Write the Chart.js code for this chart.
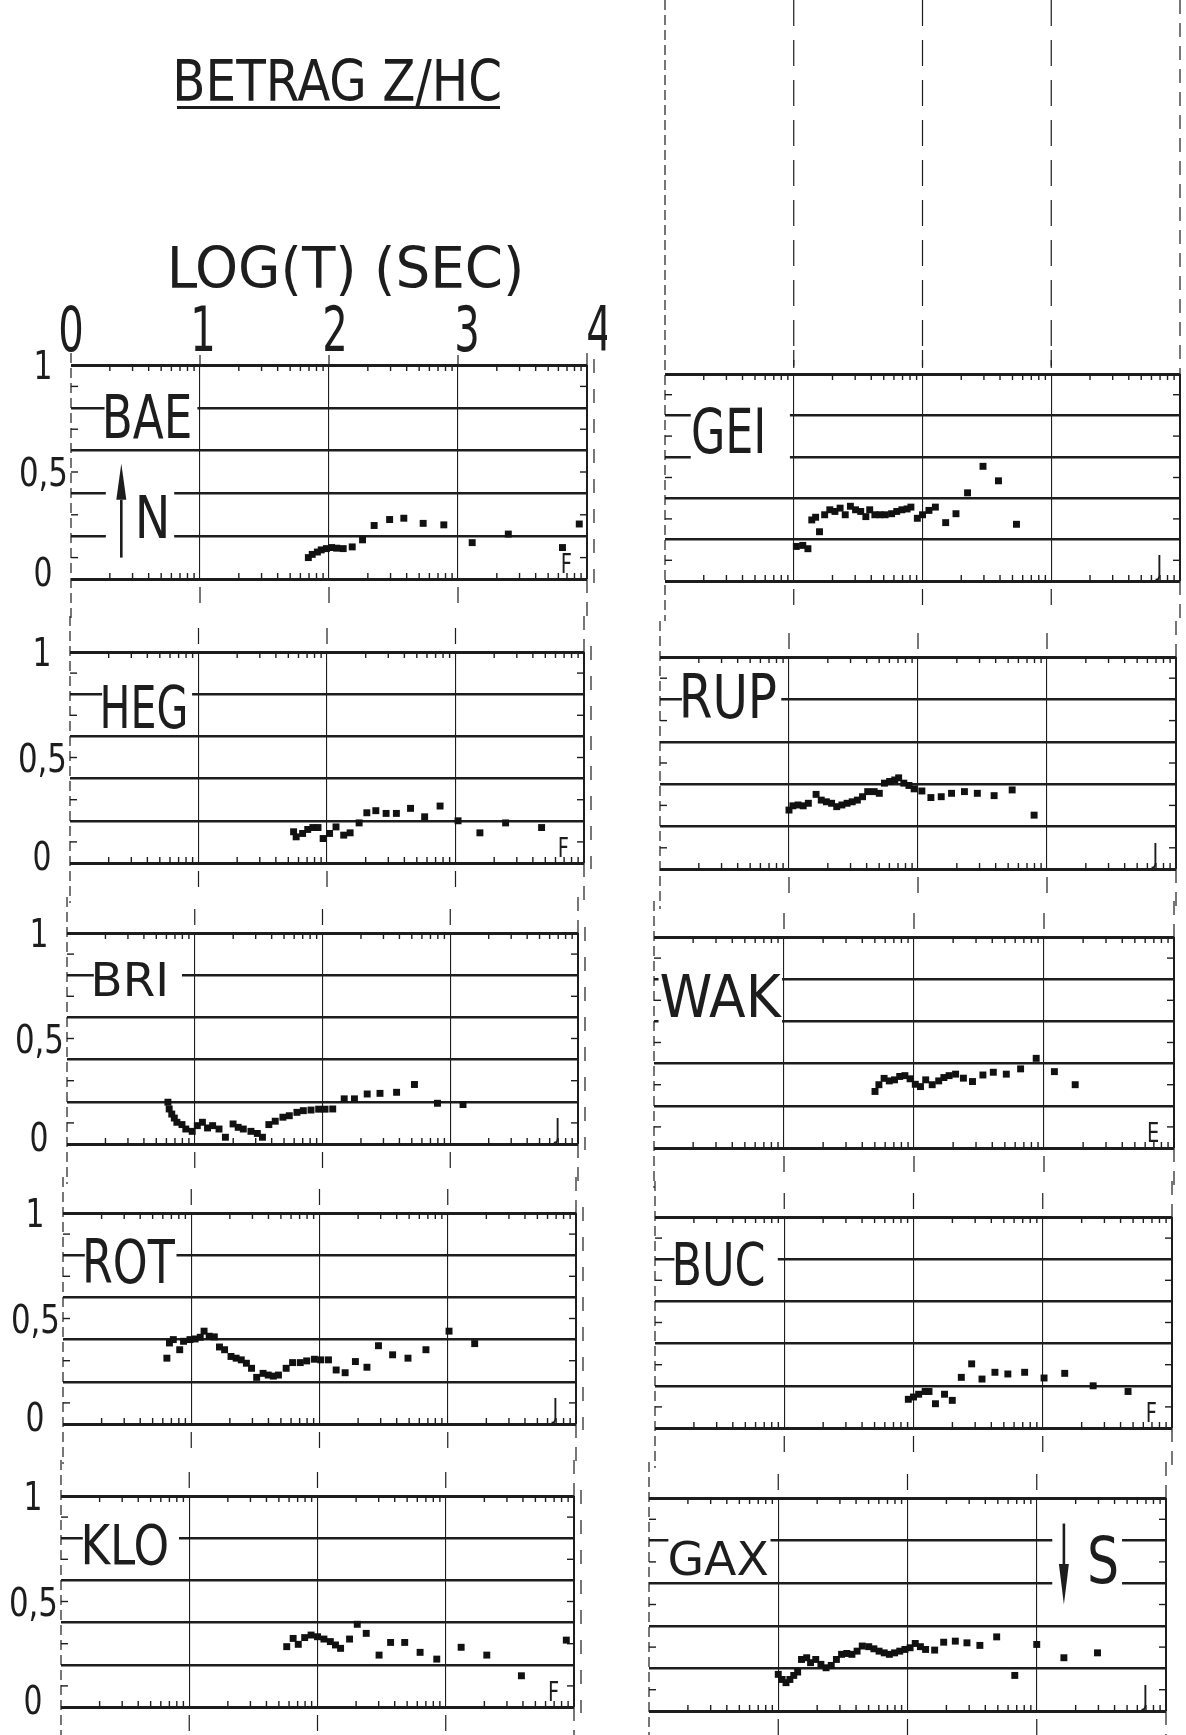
<!DOCTYPE html>
<html>
<head>
<meta charset="utf-8">
<script src="https://cdn.jsdelivr.net/npm/chart.js@4.4.1/dist/chart.umd.min.js"></script>
<style>
  body { margin: 0; background: #fff; }
  #page { position: relative; width: 1186px; height: 1735px; overflow: hidden; background: #fff; }
  #page canvas { position: absolute; }
</style>
</head>
<body>
<div id="page"><canvas id="head" width="1186" height="300" style="left:0;top:0"></canvas></div>
<script>
// ---- data ----
const titleText = 'BETRAG Z/HC';
const axisTitle = 'LOG(T) (SEC)';
const xTickValues = [0, 1, 2, 3, 4];
const xTickLabels = ['0', '1', '2', '3', '4'];
const yTickValues = [0, 0.5, 1];
const yTickLabels = ['0', '0,5', '1'];

const stations = ['BAE', 'HEG', 'BRI', 'ROT', 'KLO', 'GEI', 'RUP', 'WAK', 'BUC', 'GAX'];
const components = ['F', 'F', 'J', 'J', 'F', 'J', 'J', 'E', 'F', 'J'];

const baeLogT = [1.84, 1.87, 1.91, 1.94, 1.98, 2.02, 2.06, 2.11, 2.18, 2.26, 2.35, 2.47, 2.58, 2.73, 2.89, 3.11, 3.39, 3.81, 3.94];
const baeZ    = [0.10, 0.115, 0.126, 0.136, 0.142, 0.147, 0.144, 0.142, 0.15, 0.183, 0.25, 0.278, 0.284, 0.26, 0.253, 0.17, 0.21, 0.147, 0.257];

const hegLogT = [1.74, 1.76, 1.81, 1.85, 1.89, 1.93, 1.97, 2.02, 2.07, 2.13, 2.18, 2.25, 2.31, 2.38, 2.46, 2.54, 2.65, 2.76, 2.88, 3.02, 3.19, 3.39, 3.67];
const hegZ    = [0.148, 0.124, 0.14, 0.159, 0.168, 0.168, 0.116, 0.14, 0.171, 0.132, 0.143, 0.19, 0.238, 0.248, 0.235, 0.235, 0.259, 0.219, 0.27, 0.2, 0.143, 0.19, 0.168];

const briLogT = [0.79, 0.80, 0.82, 0.84, 0.86, 0.90, 0.93, 0.98, 1.02, 1.06, 1.10, 1.14, 1.19, 1.24, 1.30, 1.34, 1.38, 1.44, 1.49, 1.53, 1.58, 1.63, 1.69, 1.74, 1.80, 1.85, 1.91, 1.97, 2.02, 2.08, 2.17, 2.25, 2.35, 2.45, 2.58, 2.72, 2.90, 3.10];
const briZ    = [0.198, 0.166, 0.142, 0.123, 0.103, 0.092, 0.071, 0.06, 0.087, 0.103, 0.076, 0.087, 0.071, 0.032, 0.095, 0.079, 0.071, 0.06, 0.05, 0.032, 0.092, 0.108, 0.127, 0.134, 0.15, 0.158, 0.161, 0.165, 0.165, 0.166, 0.214, 0.214, 0.237, 0.24, 0.245, 0.282, 0.193, 0.187];

const rotLogT = [0.81, 0.83, 0.86, 0.91, 0.94, 0.99, 1.03, 1.07, 1.10, 1.14, 1.18, 1.22, 1.26, 1.31, 1.35, 1.39, 1.43, 1.47, 1.51, 1.56, 1.60, 1.64, 1.68, 1.74, 1.79, 1.85, 1.90, 1.96, 2.01, 2.07, 2.13, 2.20, 2.28, 2.37, 2.46, 2.57, 2.69, 2.83, 3.01, 3.21];
const rotZ    = [0.312, 0.384, 0.40, 0.352, 0.392, 0.40, 0.403, 0.411, 0.44, 0.416, 0.413, 0.365, 0.352, 0.32, 0.312, 0.304, 0.288, 0.264, 0.221, 0.24, 0.232, 0.227, 0.232, 0.264, 0.291, 0.291, 0.299, 0.307, 0.304, 0.304, 0.256, 0.243, 0.296, 0.269, 0.371, 0.328, 0.312, 0.352, 0.44, 0.381];

const kloLogT = [1.76, 1.81, 1.85, 1.90, 1.95, 2.00, 2.05, 2.10, 2.14, 2.18, 2.25, 2.31, 2.38, 2.48, 2.57, 2.68, 2.80, 2.93, 3.12, 3.32, 3.59, 3.94];
const kloZ    = [0.286, 0.325, 0.297, 0.329, 0.341, 0.333, 0.322, 0.31, 0.294, 0.278, 0.322, 0.392, 0.349, 0.246, 0.306, 0.306, 0.259, 0.227, 0.283, 0.246, 0.148, 0.317];

const geiLogT = [1.02, 1.07, 1.11, 1.14, 1.17, 1.20, 1.24, 1.28, 1.32, 1.36, 1.40, 1.44, 1.48, 1.52, 1.56, 1.59, 1.63, 1.67, 1.71, 1.76, 1.80, 1.84, 1.88, 1.91, 1.96, 2.00, 2.05, 2.10, 2.18, 2.26, 2.35, 2.47, 2.59, 2.73];
const geiZ    = [0.167, 0.172, 0.156, 0.295, 0.308, 0.238, 0.32, 0.344, 0.336, 0.352, 0.32, 0.361, 0.344, 0.336, 0.311, 0.344, 0.32, 0.32, 0.32, 0.325, 0.336, 0.344, 0.348, 0.357, 0.303, 0.32, 0.341, 0.357, 0.282, 0.325, 0.426, 0.554, 0.484, 0.274];

const rupLogT = [1.00, 1.03, 1.07, 1.11, 1.15, 1.21, 1.25, 1.29, 1.33, 1.37, 1.41, 1.45, 1.49, 1.53, 1.57, 1.61, 1.66, 1.70, 1.74, 1.78, 1.82, 1.85, 1.89, 1.93, 1.97, 2.03, 2.10, 2.18, 2.26, 2.36, 2.46, 2.59, 2.73, 2.90];
const rupZ    = [0.278, 0.298, 0.302, 0.298, 0.31, 0.352, 0.325, 0.317, 0.31, 0.294, 0.302, 0.31, 0.317, 0.325, 0.341, 0.365, 0.365, 0.357, 0.405, 0.413, 0.42, 0.43, 0.405, 0.394, 0.378, 0.368, 0.337, 0.341, 0.357, 0.365, 0.357, 0.346, 0.373, 0.254];

const wakLogT = [1.70, 1.73, 1.77, 1.81, 1.85, 1.89, 1.93, 1.97, 2.01, 2.05, 2.09, 2.14, 2.19, 2.23, 2.27, 2.32, 2.38, 2.45, 2.53, 2.61, 2.71, 2.82, 2.94, 3.08, 3.24];
const wakZ    = [0.268, 0.30, 0.33, 0.318, 0.323, 0.339, 0.343, 0.328, 0.302, 0.291, 0.323, 0.30, 0.318, 0.334, 0.343, 0.35, 0.331, 0.315, 0.346, 0.359, 0.35, 0.375, 0.425, 0.362, 0.30];

const bucLogT = [1.96, 2.00, 2.04, 2.09, 2.12, 2.17, 2.24, 2.30, 2.37, 2.45, 2.53, 2.63, 2.73, 2.86, 3.01, 3.17, 3.39, 3.66];
const bucZ    = [0.136, 0.147, 0.16, 0.173, 0.173, 0.115, 0.16, 0.131, 0.24, 0.304, 0.232, 0.264, 0.256, 0.264, 0.237, 0.259, 0.20, 0.173];

const gaxLogT = [1.00, 1.03, 1.06, 1.09, 1.12, 1.15, 1.18, 1.22, 1.25, 1.29, 1.33, 1.37, 1.41, 1.45, 1.49, 1.53, 1.57, 1.61, 1.65, 1.70, 1.74, 1.78, 1.82, 1.86, 1.90, 1.94, 1.98, 2.02, 2.06, 2.10, 2.14, 2.21, 2.28, 2.37, 2.46, 2.56, 2.69, 2.83, 3.00, 3.21, 3.47];
const gaxZ    = [0.172, 0.148, 0.133, 0.148, 0.167, 0.183, 0.242, 0.25, 0.227, 0.242, 0.219, 0.203, 0.214, 0.242, 0.266, 0.27, 0.266, 0.281, 0.305, 0.302, 0.292, 0.281, 0.273, 0.266, 0.273, 0.281, 0.289, 0.297, 0.317, 0.302, 0.289, 0.286, 0.323, 0.328, 0.32, 0.308, 0.348, 0.167, 0.3125, 0.25, 0.273];

const seriesT = [baeLogT, hegLogT, briLogT, rotLogT, kloLogT, geiLogT, rupLogT, wakLogT, bucLogT, gaxLogT];
const seriesZ = [baeZ, hegZ, briZ, rotZ, kloZ, geiZ, rupZ, wakZ, bucZ, gaxZ];

// ---- layout (page pixels of each plot box, label boxes in axis units) ----
const layout = [
  { L: 71,  T: 365,  W: 516, H: 214, col: 0, label: [0.27, 0.92, 0.66, 0.865], blanks: [[0.26, 0.98, 0.7, 0.9], [0.27, 0.8, 0.12, 0.52]],
    arrow: { x: 0.39, from: 0.1, to: 0.54, head: 0.37 }, mark: { text: 'N', box: [0.53, 0.74, 0.19, 0.39] }, showX: true },
  { L: 70,  T: 652,  W: 514, H: 211, col: 0, label: [0.26, 0.90, 0.64, 0.84],  blanks: [[0.25, 0.95, 0.7, 0.9]] },
  { L: 67,  T: 933,  W: 511, H: 211, col: 0, label: [0.22, 0.77, 0.70, 0.86],  blanks: [[0.21, 0.90, 0.7, 0.9]] },
  { L: 63,  T: 1213, W: 513, H: 211, col: 0, label: [0.18, 0.875, 0.67, 0.88], blanks: [[0.17, 0.885, 0.7, 0.9]] },
  { L: 61,  T: 1496, W: 513, H: 211, col: 0, label: [0.18, 0.83, 0.68, 0.87],  blanks: [[0.17, 0.92, 0.7, 0.9]] },
  { L: 665, T: 374,  W: 515, H: 207, col: 1, label: [0.22, 0.76, 0.62, 0.84],  blanks: [[0.20, 0.97, 0.55, 0.9]], topGuides: true },
  { L: 660, T: 657,  W: 516, H: 212, col: 1, label: [0.18, 0.90, 0.71, 0.92],  blanks: [[0.17, 0.94, 0.7, 0.95]] },
  { L: 654, T: 937,  W: 520, H: 211, col: 1, label: [0.05, 0.99, 0.62, 0.82],  blanks: [[0.035, 0.985, 0.55, 0.87]] },
  { L: 655, T: 1217, W: 517, H: 211, col: 1, label: [0.16, 0.84, 0.68, 0.88],  blanks: [[0.15, 0.95, 0.7, 0.9]] },
  { L: 649, T: 1498, W: 517, H: 213, col: 1, label: [0.16, 0.92, 0.64, 0.80],  blanks: [[0.15, 0.94, 0.7, 0.9], [3.12, 3.66, 0.5, 0.92]],
    arrow: { x: 3.21, from: 0.88, to: 0.5, head: 0.69 }, mark: { text: 'S', box: [3.41, 3.62, 0.6, 0.82] } }
];

const INK = '#1d1d1d';
const FONT = '"Liberation Sans Narrow", "DejaVu Sans Condensed", "DejaVu Sans", sans-serif';

function line(ctx, x1, y1, x2, y2) {
  ctx.beginPath(); ctx.moveTo(x1, y1); ctx.lineTo(x2, y2); ctx.stroke();
}

// draws text so that its ink fills x0..x1 and cap height capTop..base
function fitText(ctx, text, x0, x1, capTop, base) {
  ctx.save();
  ctx.font = '100px ' + FONT;
  const cap = ctx.measureText('H').actualBoundingBoxAscent;
  const size = 100 * (base - capTop) / cap;
  ctx.font = size + 'px ' + FONT;
  const m = ctx.measureText(text);
  const inkW = m.actualBoundingBoxRight + m.actualBoundingBoxLeft;
  ctx.translate(x0, base);
  ctx.scale((x1 - x0) / inkW, 1);
  ctx.textAlign = 'left';
  ctx.textBaseline = 'alphabetic';
  ctx.fillStyle = INK;
  ctx.fillText(text, m.actualBoundingBoxLeft, 0);
  ctx.restore();
}

function drawText(ctx, text, x, base, size, sx, align) {
  ctx.save();
  ctx.font = size + 'px ' + FONT;
  ctx.textAlign = align;
  ctx.textBaseline = 'alphabetic';
  ctx.fillStyle = INK;
  ctx.translate(x, base);
  ctx.scale(sx, 1);
  ctx.fillText(text, 0, 0);
  ctx.restore();
}

// header
const hctx = document.getElementById('head').getContext('2d');
fitText(hctx, titleText, 177, 500, 59, 101);
hctx.fillStyle = INK;
hctx.fillRect(177, 106, 323, 3);
fitText(hctx, axisTitle, 172, 520, 246, 288);

// plot decorations: breaks behind the labels, ticks, labels, arrows, guide lines
const decor = {
  id: 'decor',
  beforeDatasetsDraw(chart, args, o) {
    const { ctx, chartArea: a, scales: { x, y } } = chart;
    const px = v => x.getPixelForValue(v);
    const py = v => y.getPixelForValue(v);
    ctx.save();

    ctx.fillStyle = '#fff';
    o.blanks.forEach(b => ctx.fillRect(px(b[0]), py(b[3]), px(b[1]) - px(b[0]), py(b[2]) - py(b[3])));

    ctx.strokeStyle = INK;
    // left edge: thin dashed, continues through the gaps
    ctx.lineWidth = 1.2;
    ctx.setLineDash([10, 5]);
    line(ctx, a.left, a.top - o.extTop, a.left, a.bottom + o.extBottom);
    ctx.setLineDash([14, 9]);
    line(ctx, px(4), a.top - o.extTop, px(4), a.top);
    line(ctx, px(4), a.bottom, px(4), a.bottom + o.extBottom);
    if (o.col === 0) {
      ctx.setLineDash([14, 16]);
      line(ctx, a.right + 7, a.top - 6, a.right + 7, a.bottom + 6);
    }
    ctx.setLineDash([]);
    [1, 2, 3].forEach(v => {
      line(ctx, px(v), a.bottom + 8, px(v), a.bottom + 24);
      if (!o.showX) line(ctx, px(v), a.top - 24, px(v), a.top - 8);
      else line(ctx, px(v), a.top - 10, px(v), a.top);
    });
    if (o.topGuides) {
      ctx.setLineDash([26, 14]);
      [1, 2, 3].forEach(v => line(ctx, px(v), 0, px(v), a.top - 6));
      ctx.setLineDash([]);
    }

    // minor ticks: log cycles along top and bottom, odd tenths on both sides
    ctx.lineWidth = 1.4;
    for (let d = 0; d < 4; d++) {
      for (let k = 2; k < 10; k++) {
        const xx = px(d + Math.log10(k));
        line(ctx, xx, a.top, xx, a.top + 6);
        line(ctx, xx, a.bottom, xx, a.bottom - 6);
      }
    }
    [0.1, 0.3, 0.5, 0.7, 0.9].forEach(v => {
      line(ctx, a.left, py(v), a.left + 7, py(v));
      line(ctx, a.right, py(v), a.right - 7, py(v));
    });

    // station name and component letter
    const lb = o.label;
    fitText(ctx, o.name, px(lb[0]), px(lb[1]), py(lb[3]), py(lb[2]));
    drawText(ctx, o.comp, px(3.84), a.bottom - 6, 27, 0.8, 'center');

    if (o.arrow) {
      const ar = o.arrow, ax = px(ar.x);
      ctx.lineWidth = 2.6;
      line(ctx, ax, py(ar.from), ax, py(ar.head));
      ctx.fillStyle = INK;
      ctx.beginPath();
      ctx.moveTo(ax, py(ar.to));
      ctx.lineTo(ax - 5, py(ar.head));
      ctx.lineTo(ax + 5, py(ar.head));
      ctx.closePath();
      ctx.fill();
      const mb = o.mark.box;
      fitText(ctx, o.mark.text, px(mb[0]), px(mb[1]), py(mb[3]), py(mb[2]));
    }

    // axis numbers outside the box
    if (o.col === 0) {
      yTickValues.forEach((v, i) => {
        const lab = yTickLabels[i];
        const base = py(v) + (v === 0 ? 7 : 14);
        if (lab.includes(',')) drawText(ctx, lab, a.left - 3, base, 39, 0.88, 'right');
        else drawText(ctx, lab, a.left - 28, base, 39, 0.85, 'center');
      });
    }
    if (o.showX) {
      xTickValues.forEach((v, i) => drawText(ctx, xTickLabels[i], px(v) + i * 3, a.top - 14, 62, 0.72, 'center'));
    }
    ctx.restore();
  }
};

const page = document.getElementById('page');
stations.forEach((name, i) => {
  const g = layout[i];
  const padL = g.col === 0 ? g.L : 20;
  const padR = g.col === 0 ? 20 : 1186 - (g.L + g.W);
  const padT = g.topGuides ? g.T : (g.showX ? g.T - 290 : 40);
  const padB = Math.min(40, 1735 - (g.T + g.H));
  const cv = document.createElement('canvas');
  cv.width = g.W + padL + padR;
  cv.height = g.H + padT + padB;
  cv.style.left = (g.L - padL) + 'px';
  cv.style.top = (g.T - padT) + 'px';
  page.appendChild(cv);

  new Chart(cv, {
    type: 'scatter',
    data: {
      datasets: [{
        data: seriesT[i].map((t, k) => ({ x: t, y: seriesZ[i][k] })),
        pointStyle: 'rect',
        pointRadius: 4.9,
        backgroundColor: '#111',
        borderWidth: 0
      }]
    },
    options: {
      responsive: false,
      animation: false,
      events: [],
      layout: { padding: { left: padL, right: padR, top: padT, bottom: padB } },
      plugins: {
        legend: { display: false },
        tooltip: { enabled: false },
        decor: {
          name, comp: components[i], col: g.col, label: g.label, blanks: g.blanks,
          arrow: g.arrow, mark: g.mark, showX: !!g.showX, topGuides: !!g.topGuides,
          extTop: g.topGuides ? g.T : (g.showX ? 12 : 36), extBottom: padB
        }
      },
      scales: {
        x: {
          type: 'linear', min: 0, max: 4,
          ticks: { display: false, stepSize: 1 },
          grid: {
            drawTicks: false,
            color: c => c.tick.value === 0 ? 'rgba(0,0,0,0)' : INK,
            lineWidth: c => c.tick.value === 4 ? 2 : 1.1
          },
          border: { display: false }
        },
        y: {
          type: 'linear', min: 0, max: 1,
          ticks: { display: false, stepSize: 0.2 },
          grid: {
            drawTicks: false,
            color: INK,
            lineWidth: c => (c.tick.value === 0 || c.tick.value === 1) ? 3 : 2.5
          },
          border: { display: false }
        }
      }
    },
    plugins: [decor]
  });
});
</script>
</body>
</html>
